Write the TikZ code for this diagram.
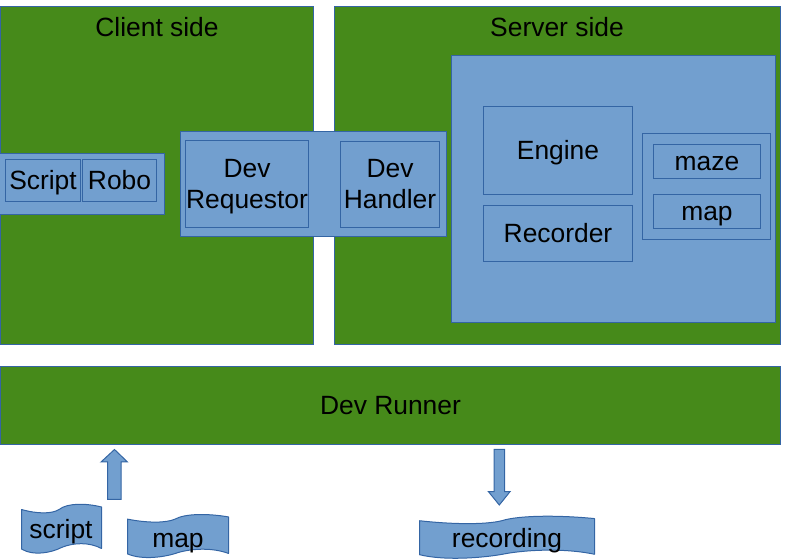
\documentclass[tikz,border=0pt]{standalone}
\usepackage{fontspec}
\setmainfont{Liberation Sans}
\definecolor{sidegreen}{HTML}{468A1A}
\definecolor{partblue}{HTML}{729FCF}
\definecolor{edgeblue}{HTML}{3465A4}
\tikzset{
  plate/.style={draw=edgeblue,line width=0.75pt,inner sep=0pt,align=center,font=\fontsize{19.8}{23.25}\selectfont},
  greenplate/.style={plate,fill=sidegreen},
  blueplate/.style={plate,fill=partblue},
  oneline/.style={text height=14pt,text depth=0pt},
  labeltext/.style={inner sep=0pt,oneline,font=\fontsize{19.8}{23.25}\selectfont},
}
\newcommand{\devstrut}{\rule{0pt}{17pt}}
\newcommand{\wavesheet}[4]{
  \begin{scope}[shift={(#1,#2)},x=#3*0.75pt,y=-#4*0.75pt]
    \draw[draw=edgeblue,line width=0.75pt,fill=partblue,line join=round]
      (0,0.11) .. controls (0.2,0.2) and (0.38,0.2) .. (0.47,0.11)
      .. controls (0.57,-0.02) and (0.8,-0.02) .. (1,0.06)
      -- (1,0.89) .. controls (0.85,0.76) and (0.65,0.77) .. (0.5,0.87)
      .. controls (0.38,0.97) and (0.15,1.05) .. (0,0.9) -- cycle;
  \end{scope}
}
\begin{document}
\begin{tikzpicture}[x=0.75pt,y=-0.75pt]
  \useasboundingbox (0,0) rectangle (794,559);

  \node[greenplate,minimum width=234.8pt,minimum height=253.1pt] (client) at (156.8,175.3) {};
  \node[labeltext] (clientlabel) at (157,27) {Client side};
  \node[greenplate,minimum width=334.6pt,minimum height=253.1pt] (server) at (557.5,175.3) {};
  \node[labeltext] (serverlabel) at (557,27) {Server side};
  \node[greenplate,oneline,minimum width=585.4pt,minimum height=58pt] (runner) at (390.5,405.5) {Dev Runner};

  \node[blueplate,minimum width=243pt,minimum height=200pt] (backend) at (613.5,189.3) {};
  \node[blueplate,oneline,minimum width=111.8pt,minimum height=66pt] (engine) at (558,150.5) {Engine};
  \node[blueplate,oneline,minimum width=111.8pt,minimum height=42pt] (recorder) at (558,233.5) {Recorder};
  \node[blueplate,minimum width=96pt,minimum height=79.5pt] (store) at (706.5,186.5) {};
  \node[blueplate,oneline,minimum width=80.2pt,minimum height=25.5pt] (maze) at (707,161.5) {maze};
  \node[blueplate,oneline,minimum width=80.2pt,minimum height=25.5pt] (mapfile) at (707,211.5) {map};

  \node[blueplate,minimum width=123.8pt,minimum height=45.8pt] (roboside) at (82,184) {};
  \node[blueplate,oneline,minimum width=56.5pt,minimum height=31.5pt] (scriptbox) at (43,180.5) {Script};
  \node[blueplate,oneline,minimum width=55.5pt,minimum height=31.5pt] (robo) at (119.5,180.5) {Robo};

  \node[blueplate,minimum width=199.5pt,minimum height=78.8pt] (devlink) at (313.5,184) {};
  \node[blueplate,minimum width=92.2pt,minimum height=65.2pt] (requestor) at (247,184) {\devstrut Dev\\Requestor};
  \node[blueplate,minimum width=74.2pt,minimum height=65.2pt] (handler) at (390,184.5) {\devstrut Dev\\Handler\rule[-4.2pt]{0pt}{0pt}};

  \draw[draw=edgeblue,line width=0.75pt,fill=partblue] (114.5,449.5) -- (127.5,462) -- (121,462) -- (121,499.5)
    -- (107.5,499.5) -- (107.5,462) -- (101,462) -- cycle;
  \draw[draw=edgeblue,line width=0.75pt,fill=partblue] (494,449.5) -- (504.7,449.5) -- (504.7,491.7) -- (510,491.7)
    -- (499.3,505) -- (488.5,491.7) -- (494,491.7) -- cycle;

  \wavesheet{21.5}{504}{80}{50}
  \node[labeltext] (scriptfile) at (61,529) {script};
  \wavesheet{127.5}{514.3}{101}{44}
  \node[labeltext] (mapsheet) at (178,538) {map};
  \wavesheet{419.5}{516}{175}{43}
  \node[labeltext] (recording) at (507,538) {recording};
\end{tikzpicture}
\end{document}
